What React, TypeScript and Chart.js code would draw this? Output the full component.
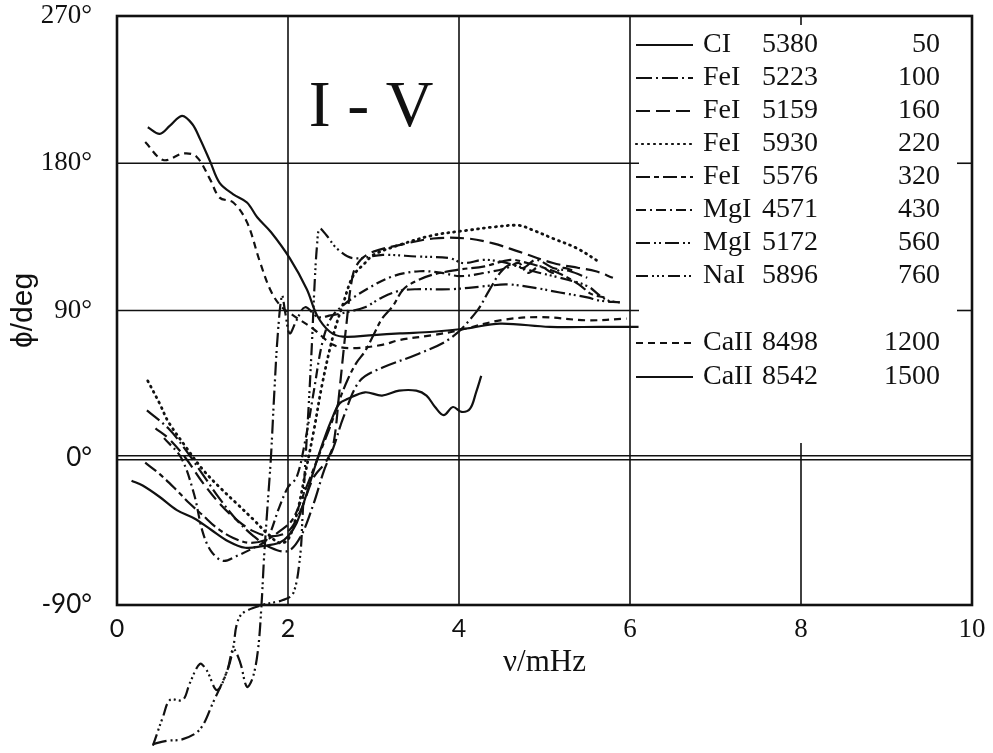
import React, { useEffect, useRef } from 'react';
import { Chart, registerables } from 'chart.js';
Chart.register(...registerables);

// ---- data (x: ν in mHz, y: phase in degrees) ----
const X_TICKS = [0, 2, 4, 6, 8, 10];
const Y_TICKS = [-90, 0, 90, 180, 270];

const CI_5380 = [[0.17,-14],[0.3,-17],[0.5,-24],[0.7,-32],[0.9,-37],[1.1,-44],[1.3,-51],[1.5,-55],[1.7,-54],[1.9,-52],[2.0,-48],[2.1,-40],[2.2,-25],[2.3,-8],[2.4,8],[2.5,22],[2.6,33],[2.7,36],[2.9,40],[3.1,38],[3.3,41],[3.5,41],[3.62,38],[3.72,31],[3.82,26],[3.93,31],[4.03,28],[4.13,30],[4.2,40],[4.26,50]];
const FEI_5223 = [[0.35,29],[0.6,18],[0.8,5],[1.0,-10],[1.2,-25],[1.4,-38],[1.6,-48],[1.8,-55],[2.0,-57],[2.15,-48],[2.3,-28],[2.42,-8],[2.53,6],[2.65,25],[2.84,47],[3.1,55],[3.5,63],[3.9,73],[4.2,89],[4.35,102],[4.48,113],[4.6,118],[4.75,116],[4.9,121],[5.1,116],[5.3,114],[5.5,110]];
const FEI_5159 = [[0.45,18],[0.6,12],[0.8,0],[1.0,-15],[1.2,-28],[1.4,-38],[1.6,-45],[1.8,-48],[2.0,-45],[2.15,-32],[2.3,-12],[2.45,-2],[2.53,8],[2.6,40],[2.68,80],[2.76,112],[2.85,121],[3.0,126],[3.3,130],[3.7,134],[4.1,134],[4.4,131],[4.7,126],[5.1,119],[5.4,116],[5.6,114],[5.8,110]];
const FEI_5930 = [[0.36,47],[0.5,33],[0.6,22],[0.8,7],[1.0,-7],[1.2,-18],[1.4,-28],[1.6,-38],[1.75,-46],[1.9,-52],[2.0,-50],[2.1,-35],[2.2,-10],[2.3,16],[2.4,45],[2.53,75],[2.65,95],[2.76,111],[2.9,119],[3.0,124],[3.3,130],[3.7,136],[4.1,139],[4.4,141],[4.7,142],[4.87,139],[5.1,134],[5.38,128],[5.63,120]];
const FEI_5576 = [[0.33,-3],[0.5,-10],[0.7,-20],[0.85,-28],[1.0,-35],[1.17,-43],[1.36,-49],[1.55,-52],[1.75,-50],[1.9,-45],[2.05,-38],[2.2,-20],[2.35,0],[2.5,20],[2.6,35],[2.7,48],[2.8,58],[2.9,65],[3.0,75],[3.1,85],[3.23,93],[3.35,103],[3.5,108],[3.7,112],[4.0,115],[4.3,117],[4.6,121],[4.8,119],[5.0,116],[5.2,112],[5.4,106],[5.55,100],[5.7,98]];
const MGI_4571 = [[0.55,12],[0.75,0],[0.9,-22],[1.0,-45],[1.1,-57],[1.24,-63],[1.4,-60],[1.6,-55],[1.75,-50],[1.9,-30],[2.0,-18],[2.1,-12],[2.2,10],[2.3,40],[2.4,70],[2.5,85],[2.64,93],[2.92,103],[3.23,111],[3.54,114],[3.8,113],[4.01,111],[4.3,113],[4.56,116],[4.7,119],[4.8,113],[4.95,117],[5.1,113],[5.22,116],[5.35,114]];
const MGI_5172 = [[0.42,-175],[0.58,-173],[0.77,-172],[0.97,-166],[1.12,-150],[1.29,-130],[1.36,-117],[1.44,-125],[1.52,-140],[1.59,-134],[1.65,-117],[1.69,-90],[1.72,-61],[1.76,-30],[1.8,0],[1.84,40],[1.88,75],[1.93,99],[1.97,88],[2.02,76],[2.1,84],[2.2,92],[2.35,86],[2.5,87],[2.69,89],[2.9,92],[3.1,98],[3.3,102],[3.5,103],[3.9,103],[4.33,105],[4.56,106],[4.87,104],[5.18,101],[5.5,98],[5.65,96],[5.88,95]];
const NAI_5896 = [[0.42,-176],[0.54,-158],[0.62,-148],[0.77,-148],[0.85,-138],[0.97,-126],[1.05,-130],[1.17,-142],[1.29,-130],[1.36,-116],[1.4,-102],[1.47,-95],[1.7,-90],[1.94,-87],[2.06,-83],[2.14,-61],[2.17,-36],[2.2,-5],[2.24,30],[2.28,70],[2.31,105],[2.34,130],[2.37,140],[2.45,136],[2.57,128],[2.76,122],[3.11,124],[3.5,123],[3.89,122],[4.05,119],[4.3,121],[4.56,119],[4.87,114],[5.18,110],[5.5,105],[5.65,99],[5.75,96],[5.88,95]];
const CAII_8498 = [[0.33,193],[0.54,182],[0.78,186],[0.93,184],[1.09,170],[1.2,159],[1.36,156],[1.52,144],[1.67,120],[1.79,103],[1.91,93],[2.06,87],[2.29,79],[2.53,69],[2.76,67],[3.1,69],[3.31,72],[3.7,75],[4.01,78],[4.48,84],[4.95,86],[5.5,84],[5.96,85]];
const CAII_8542 = [[0.36,202],[0.5,198],[0.62,203],[0.76,209],[0.88,204],[0.97,195],[1.09,181],[1.2,168],[1.36,161],[1.52,156],[1.64,147],[1.8,138],[2.02,122],[2.22,103],[2.34,87],[2.49,77],[2.64,74],[3.0,75],[3.31,76],[3.7,77],[4.09,79],[4.48,82],[5.06,80],[5.65,80],[6.1,80]];

const SERIES = [CI_5380, FEI_5223, FEI_5159, FEI_5930, FEI_5576, MGI_4571, MGI_5172, NAI_5896, CAII_8498, CAII_8542];
const LINE_NAMES = ['CI', 'FeI', 'FeI', 'FeI', 'FeI', 'MgI', 'MgI', 'NaI', 'CaII', 'CaII'];
const WAVELENGTHS = ['5380', '5223', '5159', '5930', '5576', '4571', '5172', '5896', '8498', '8542'];
const HEIGHTS = ['50', '100', '160', '220', '320', '430', '560', '760', '1200', '1500'];

// ---- styles ----
const DASHES = [[], [16, 4, 2, 4], [14, 6], [1, 5], [14, 4, 5, 4], [10, 4, 2, 4], [14, 4, 2, 3, 2, 4], [12, 4, 2, 3, 2, 3, 2, 4], [7, 5], []];
const LEGEND_ROWS = [45, 78, 111, 144, 177, 210, 243, 276, 343, 377];
const SERIF = '"Liberation Serif", "Times New Roman", serif';
const SANS = 'Lato, "Liberation Sans", sans-serif';

const decorPlugin = {
  id: 'decor',
  beforeDatasetsDraw(chart: any) {
    const { ctx, chartArea: a, scales } = chart;
    const x = scales.x, y = scales.y;
    const ln = (x1: number, y1: number, x2: number, y2: number) => {
      ctx.beginPath(); ctx.moveTo(x1, y1); ctx.lineTo(x2, y2); ctx.stroke();
    };
    ctx.save();
    ctx.strokeStyle = '#111';
    ctx.lineWidth = 1.6;
    [2, 4, 6].forEach((v) => { const px = x.getPixelForValue(v); ln(px, a.top, px, a.bottom); });
    const x8 = x.getPixelForValue(8);
    ln(x8, y.getPixelForValue(9), x8, a.bottom);
    ln(x8, a.top, x8, a.top + 9);
    const xLeg = x.getPixelForValue(6);
    [180, 90].forEach((v) => {
      const py = y.getPixelForValue(v);
      ln(a.left, py, xLeg + 9, py);
      ln(a.right - 15, py, a.right, py);
    });
    const y0 = y.getPixelForValue(0);
    ln(a.left, y0 - 2, a.right, y0 - 2);
    ln(a.left, y0 + 2, a.right, y0 + 2);
    ctx.lineWidth = 2.6;
    ctx.strokeRect(a.left, a.top, a.right - a.left, a.bottom - a.top);
    ctx.restore();
  },
  afterDatasetsDraw(chart: any) {
    const { ctx } = chart;
    ctx.save();
    ctx.fillStyle = '#111';
    ctx.strokeStyle = '#111';
    ctx.font = '66px ' + SERIF;
    ctx.textAlign = 'center';
    ctx.textBaseline = 'alphabetic';
    ctx.fillText('I - V', 371, 126);

    ctx.font = '28px ' + SERIF;
    ctx.textBaseline = 'middle';
    LEGEND_ROWS.forEach((ry, i) => {
      ctx.lineWidth = 2.2;
      ctx.lineCap = i === 3 ? 'round' : 'butt';
      ctx.setLineDash(DASHES[i]);
      ctx.beginPath(); ctx.moveTo(636, ry); ctx.lineTo(693, ry); ctx.stroke();
      ctx.setLineDash([]);
      ctx.textAlign = 'left';
      ctx.fillText(LINE_NAMES[i], 703, ry);
      ctx.fillText(WAVELENGTHS[i], 762, ry);
      ctx.textAlign = 'right';
      ctx.fillText(HEIGHTS[i], 940, ry);
    });
    ctx.restore();
  },
};

export default function App() {
  const ref = useRef<HTMLCanvasElement>(null);
  useEffect(() => {
    document.body.style.margin = '0';
    const canvas = ref.current!;
    const chart = new Chart(canvas, {
      type: 'scatter',
      data: {
        datasets: SERIES.map((s, i) => ({
          label: LINE_NAMES[i] + ' ' + WAVELENGTHS[i],
          data: s.map(([xv, yv]) => ({ x: xv, y: yv })),
          showLine: true,
          borderColor: '#111',
          backgroundColor: '#111',
          borderWidth: i === 3 ? 2.8 : 2.2,
          borderDash: DASHES[i],
          borderCapStyle: i === 3 ? 'round' : 'butt',
          pointRadius: 0,
          tension: 0.35,
          clip: false,
        })),
      },
      options: {
        responsive: false,
        animation: false,
        devicePixelRatio: 1,
        layout: { padding: { left: 2, top: 16, right: 21, bottom: 68 } },
        plugins: { legend: { display: false }, tooltip: { enabled: false } },
        scales: {
          x: {
            type: 'linear', min: 0, max: 10,
            afterBuildTicks: (s: any) => { s.ticks = X_TICKS.map((v) => ({ value: v })); },
            afterFit: (s: any) => { s.height = 80; s.paddingLeft = 0; s.paddingRight = 0; },
            grid: { display: false },
            border: { display: false },
            ticks: {
              padding: 1, color: '#111',
              font: (c: any) => (c.tick && c.tick.value <= 4 ? { family: SANS, size: 25 } : { family: SERIF, size: 27 }),
              callback: (v: any) => String(v),
            },
            title: { display: true, text: 'ν/mHz', color: '#111', font: { family: SERIF, size: 31 } },
          },
          y: {
            type: 'linear', min: -90, max: 270,
            afterBuildTicks: (s: any) => { s.ticks = Y_TICKS.map((v) => ({ value: v })); },
            afterFit: (s: any) => { s.width = 115; s.paddingTop = 0; s.paddingBottom = 0; },
            grid: { display: false },
            border: { display: false },
            ticks: {
              padding: 17, color: '#111',
              font: (c: any) => (c.tick && c.tick.value <= 0 ? { family: SANS, size: 26 } : { family: SERIF, size: 27 }),
              callback: (v: any) => v + '°',
            },
            title: { display: true, text: 'ϕ/deg', color: '#111', font: { family: '"Liberation Sans", Arial, sans-serif', size: 30 } },
          },
        },
      },
      plugins: [decorPlugin],
    } as any);
    return () => chart.destroy();
  }, []);
  return <canvas ref={ref} width={993} height={753} style={{ display: 'block' }} />;
}
